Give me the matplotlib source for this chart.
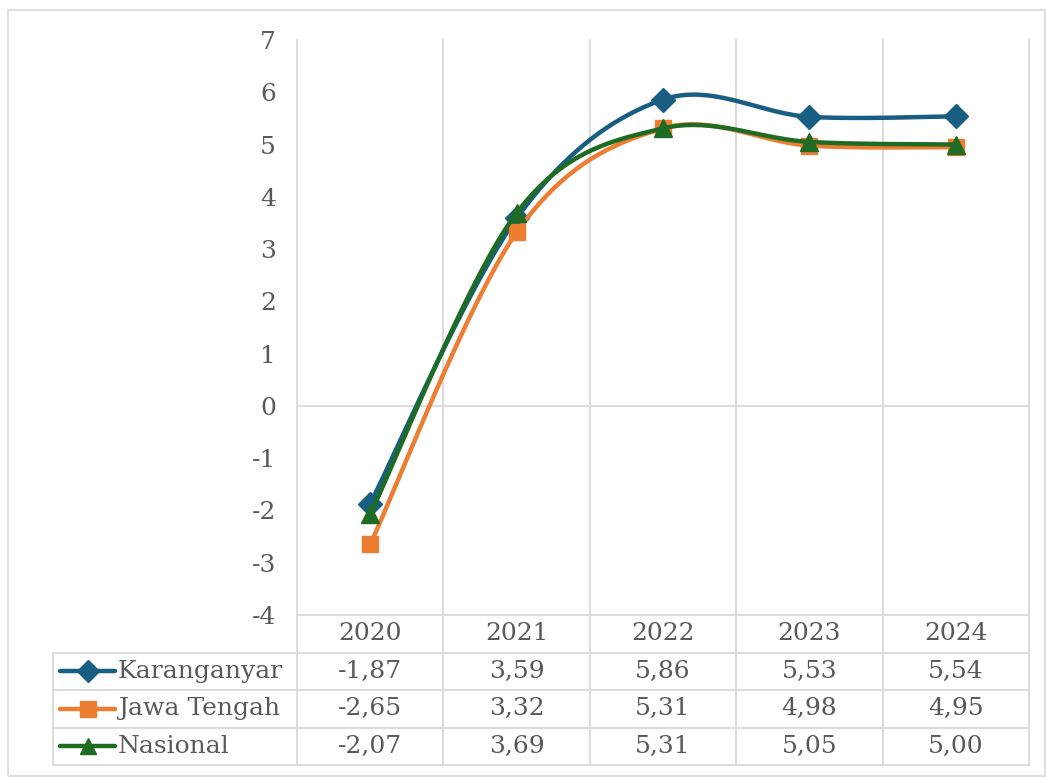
import numpy as np
import matplotlib.pyplot as plt
from matplotlib.patches import Rectangle

years = ["2020", "2021", "2022", "2023", "2024"]
series_names = ["Karanganyar", "Jawa Tengah", "Nasional"]
karanganyar = [-1.87, 3.59, 5.86, 5.53, 5.54]
jawa_tengah = [-2.65, 3.32, 5.31, 4.98, 4.95]
nasional = [-2.07, 3.69, 5.31, 5.05, 5.00]
values = [karanganyar, jawa_tengah, nasional]

colors = ["#175E82", "#ED7D31", "#1E6B24"]
markers = ["D", "s", "^"]
msizes = [12.5, 12, 13]
GRID = "#D9D9D9"
TXT = "#595959"
FONT = "DejaVu Serif"
FS = 18


def smooth(x, y, n=40):
    # Excel-style smoothed line (cubic Bezier through the points)
    x = np.asarray(x, float)
    y = np.asarray(y, float)
    px = np.concatenate([[x[0]], x, [x[-1]]])
    py = np.concatenate([[y[0]], y, [y[-1]]])
    t = np.linspace(0, 1, n)
    xs, ys = [], []
    for i in range(1, len(x)):
        p0 = np.array([px[i], py[i]])
        p1 = np.array([px[i + 1], py[i + 1]])
        c1 = p0 + (p1 - np.array([px[i - 1], py[i - 1]])) / 6
        c2 = p1 - (np.array([px[i + 2], py[i + 2]]) - p0) / 6
        b = ((1 - t) ** 3)[:, None] * p0 + (3 * (1 - t) ** 2 * t)[:, None] * c1 \
            + (3 * (1 - t) * t ** 2)[:, None] * c2 + (t ** 3)[:, None] * p1
        xs.append(b[:, 0])
        ys.append(b[:, 1])
    return np.concatenate(xs), np.concatenate(ys)


W, H = 1046, 777
fig = plt.figure(figsize=(W / 100, H / 100), dpi=100)
fig.patches.append(Rectangle((8 / W, 1 - 776 / H), 1037 / W, 766 / H,
                             transform=fig.transFigure, fill=False,
                             edgecolor=GRID, lw=1.2))

left, right, top, bottom = 297, 1029, 40, 615
ax = fig.add_axes([left / W, 1 - bottom / H, (right - left) / W, (bottom - top) / H])
ax.set_xlim(-0.5, len(years) - 0.5)
ax.set_ylim(-4, 7)
for s in ax.spines.values():
    s.set_visible(False)
ax.set_xticks([])
ax.set_yticks(range(-4, 8))
ax.set_yticklabels([str(v) for v in range(-4, 8)], fontfamily=FONT, fontsize=FS, color=TXT)
ax.tick_params(axis="y", length=0, pad=15)

xt = ax.get_xaxis_transform()
row_h = 37.5 / (bottom - top)
table_bottom = -4 * row_h
cat_w = (right - left) / len(years)
legend_left = -0.5 - (left - 53) / cat_w

# vertical gridlines running through the table
for xb in np.arange(-0.5, len(years), 1.0):
    ax.plot([xb, xb], [table_bottom, 1], color=GRID, lw=1.3, transform=xt, clip_on=False, zorder=1)
# zero line
ax.axhline(0, color=GRID, lw=1.3, zorder=1)
# table horizontal lines
for k in range(5):
    x0 = -0.5 if k == 0 else legend_left
    ax.plot([x0, len(years) - 0.5], [-k * row_h] * 2, color=GRID, lw=1.3,
            transform=xt, clip_on=False, zorder=1)
ax.plot([legend_left, legend_left], [-row_h, table_bottom], color=GRID, lw=1.3,
        transform=xt, clip_on=False)

xs = np.arange(len(years))
for j, yr in enumerate(years):
    ax.text(j, -0.5 * row_h, yr, transform=xt, ha="center", va="center",
            fontfamily=FONT, fontsize=FS, color=TXT)

for i, (name, vals) in enumerate(zip(series_names, values)):
    sx, sy = smooth(xs, vals)
    ax.plot(sx, sy, color=colors[i], lw=3.2, zorder=3 + i, solid_capstyle="round")
    ax.plot(xs, vals, ls="none", marker=markers[i], ms=msizes[i], color=colors[i], zorder=3 + i)
    yrow = -(i + 1.5) * row_h
    for j, v in enumerate(vals):
        ax.text(j, yrow, f"{v:.2f}".replace(".", ","), transform=xt, ha="center", va="center",
                fontfamily=FONT, fontsize=FS, color=TXT)
    lx0 = legend_left + 7 / cat_w
    lx1 = legend_left + 62 / cat_w
    ax.plot([lx0, lx1], [yrow, yrow], color=colors[i], lw=3.2, transform=xt, clip_on=False,
            solid_capstyle="round")
    ax.plot([(lx0 + lx1) / 2], [yrow], marker=markers[i], ms=msizes[i] - 1, color=colors[i],
            transform=xt, clip_on=False)
    ax.text(legend_left + 65 / cat_w, yrow, name, transform=xt, ha="left", va="center",
            fontfamily=FONT, fontsize=FS, color=TXT)

fig.savefig("out.png", dpi=100)
